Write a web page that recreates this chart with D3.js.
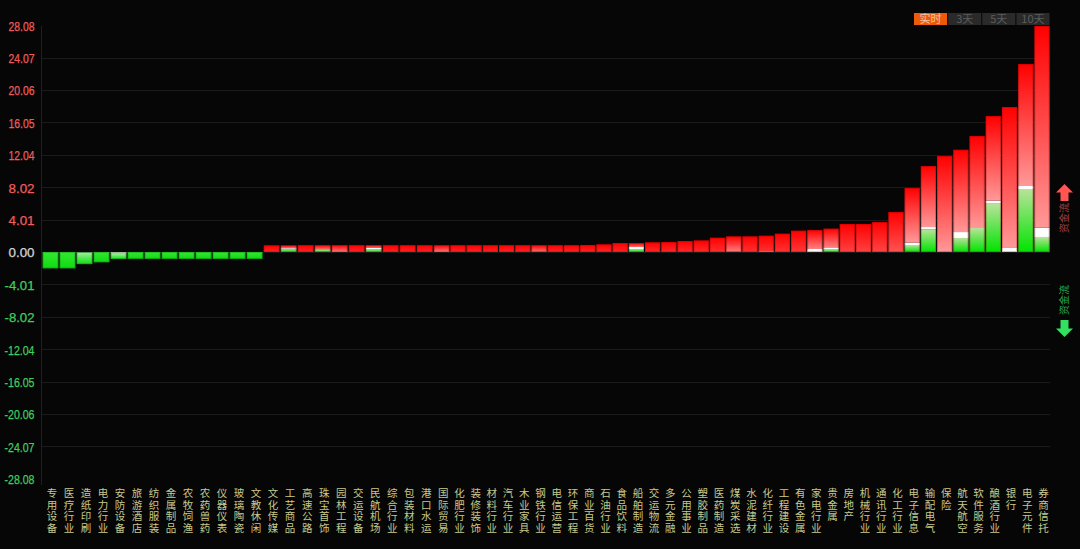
<!DOCTYPE html>
<html>
<head>
<meta charset="utf-8">
<script src="https://cdn.jsdelivr.net/npm/d3@7"></script>
<style>
  html, body { margin: 0; padding: 0; background: #060606; }
  svg { display: block; }
  text { font-family: "Noto Sans CJK SC", "Noto Sans", sans-serif; }
</style>
</head>
<body>
<div id="chart"></div>
<script>
/* Sector money flow bars */

const sectors = ["专用设备","医疗行业","造纸印刷","电力行业","安防设备","旅游酒店","纺织服装","金属制品","农牧饲渔","农药兽药","仪器仪表","玻璃陶瓷","文教休闲","文化传媒","工艺商品","高速公路","珠宝首饰","园林工程","交运设备","民航机场","综合行业","包装材料","港口水运","国际贸易","化肥行业","装修装饰","材料行业","汽车行业","木业家具","钢铁行业","电信运营","环保工程","商业百货","石油行业","食品饮料","船舶制造","交运物流","多元金融","公用事业","塑胶制品","医药制造","煤炭采选","水泥建材","化纤行业","工程建设","有色金属","家电行业","贵金属","房地产","机械行业","通讯行业","化工行业","电子信息","输配电气","保险","航天航空","软件服务","酿酒行业","银行","电子元件","券商信托"];

// bar total
const totals = [-2.02,-2.02,-1.5,-1.27,-0.87,-0.85,-0.85,-0.85,-0.85,-0.85,-0.85,-0.85,-0.85,0.83,0.83,0.85,0.85,0.85,0.85,0.85,0.85,0.85,0.85,0.85,0.85,0.85,0.85,0.85,0.85,0.85,0.85,0.85,0.87,0.95,1.11,1.11,1.2,1.24,1.36,1.44,1.77,1.94,1.94,2.02,2.27,2.64,2.72,2.89,3.47,3.47,3.71,4.95,7.92,10.64,11.88,12.66,14.36,16.83,17.95,23.27,28.0];

// green part at the base of the positive bars
const greens = [0,0,0,0,0,0,0,0,0,0,0,0,0,0,0.35,0,0.25,0,0,0.3,0,0,0,0,0,0,0,0,0,0,0,0,0,0,0,0.37,0,0,0,0,0,0,0,0.12,0,0,0,0.29,0,0,0,0,0.87,2.81,0,1.73,2.97,5.98,0,7.8,1.86];

// white part, sits between green and red
const whites = [0,0,0.05,0,0.25,0,0,0,0,0,0,0,0,0,0.12,0,0.08,0.08,0,0.25,0,0,0,0.08,0,0,0,0,0,0.04,0,0,0,0,0,0.25,0,0,0,0,0,0.04,0,0,0,0,0.37,0.29,0,0,0,0,0.28,0.28,0,0.74,0,0.37,0.5,0.37,1.15];

const yTicks = [28.08,24.07,20.06,16.05,12.04,8.02,4.01,0,-4.01,-8.02,-12.04,-16.05,-20.06,-24.07,-28.08];
const periods = ["实时","3天","5天","10天"];
const flowTitle = "资金流";

const width = 1080, height = 549;

const svg = d3.select("#chart")
    .append("svg")
    .attr("width", width)
    .attr("height", height)
    .attr("viewBox", [0, 0, width, height]);

const defs = svg.append("defs");

// the source picture has wider columns on the left part
const x = d3.scaleLinear()
    .domain([0, 23, 60])
    .range([50.5, 441.7, 1042]);

const y = d3.scaleLinear()
    .domain([-28.08, 28.08])
    .range([478.8, 25.2]);

const barW = i => i < 23 ? 15.7 : 15.2;

// grid
svg.append("g")
    .selectAll("line")
    .data(yTicks.filter(d => Math.abs(d) !== 28.08))
    .join("line")
    .attr("x1", 41)
    .attr("x2", 1050)
    .attr("y1", d => Math.round(y(d)) + 0.5)
    .attr("y2", d => Math.round(y(d)) + 0.5)
    .attr("stroke", "#1b1b1b");

const yAxis = d3.axisLeft(y)
    .tickValues(yTicks)
    .tickFormat(d => d.toFixed(2))
    .tickSize(0)
    .tickPadding(7);

const axisG = svg.append("g")
    .attr("transform", "translate(41.5,0)")
    .call(yAxis);

axisG.select(".domain").attr("stroke", "#1f1f1f").attr("d", "M0,26V485");
axisG.selectAll("text")
    .attr("y", 1)
    .style("font-family", "'Liberation Sans', sans-serif")
    .style("font-size", "12px")
    .attr("textLength", d => d < 0 ? 30 : 26)
    .attr("lengthAdjust", "spacingAndGlyphs")
    .attr("stroke-width", 0.25)
    .attr("stroke", d => d > 0 ? "#ee5c5c" : d < 0 ? "#3fcc60" : "#d4d4d4")
    .attr("fill", d => d > 0 ? "#ee5c5c" : d < 0 ? "#3fcc60" : "#d4d4d4");

function gradient(id, top, bottom) {
    const g = defs.append("linearGradient")
        .attr("id", id)
        .attr("x1", 0).attr("x2", 0).attr("y1", 0).attr("y2", 1);
    g.append("stop").attr("offset", 0).attr("stop-color", top);
    g.append("stop").attr("offset", 1).attr("stop-color", bottom);
    return `url(#${id})`;
}

const bars = svg.append("g")
    .selectAll("g")
    .data(totals)
    .join("g");

bars.each(function(total, i) {
    const g = d3.select(this);
    const left = x(i) - barW(i) / 2;
    const rect = (from, to, fill) => g.append("rect")
        .attr("x", left)
        .attr("width", barW(i))
        .attr("y", y(Math.max(from, to)))
        .attr("height", Math.abs(y(from) - y(to)))
        .attr("fill", fill);

    if (total < 0) {
        const w = whites[i];
        const pale = w > 0 ? 0.6 : 0.2;
        if (w > 0) rect(0, -w, gradient("w" + i, "#ece8e0", "#b0b0a8"));
        rect(-w, total, gradient("g" + i, d3.interpolateRgb("#00e000", "#ffffff")(pale), "#0fdc0f"));
        g.append("rect")
            .attr("x", left + 0.5).attr("width", barW(i) - 1)
            .attr("y", y(0) + 0.5).attr("height", y(total) - y(0) - 1)
            .attr("fill", "none").attr("stroke", "#006a00").attr("stroke-opacity", 0.3);
        return;
    }

    const gr = greens[i], wh = whites[i];
    const redBase = gr + wh;
    const redPx = y(redBase) - y(total);
    // long bars and bars with a white band fade further
    const fade = Math.min(0.6, redPx / 180 + 0.1 + (wh > 0 ? 0.3 : 0));
    const redEnd = d3.interpolateRgb("#ff0000", "#ffffff")(fade);

    if (gr > 0) {
        const paleGreen = gr > 0.5 ? "#b9e39a" : "#a8e088";
        rect(0, gr, gradient("g" + i, paleGreen, "#00e400"));
    }
    if (wh > 0) rect(gr, redBase, "#ffffff");
    rect(redBase, total, gradient("r" + i, "#ff0000", redEnd));

    g.append("rect")
        .attr("x", left + 0.5).attr("width", barW(i) - 1)
        .attr("y", y(total) + 0.5).attr("height", Math.max(0, y(0) - y(total) - 1))
        .attr("fill", "none").attr("stroke", "#8c0000").attr("stroke-opacity", 0.28);
});

// sector names, one character per row
svg.append("g")
    .selectAll("text")
    .data(sectors)
    .join("text")
    .attr("fill", "#c9c98d")
    .style("font-size", "10.5px")
    .attr("text-anchor", "middle")
    .each(function(name, i) {
        d3.select(this).selectAll("tspan")
            .data(Array.from(name))
            .join("tspan")
            .attr("x", x(i) + 1.5)
            .attr("y", (c, k) => 497 + k * 11.67)
            .text(c => c);
    });

// period buttons
const btn = d3.scaleBand()
    .domain(periods)
    .range([914, 1049.5])
    .paddingInner(0.03);

const btnG = svg.append("g")
    .selectAll("g")
    .data(periods)
    .join("g");

btnG.append("rect")
    .attr("x", d => btn(d))
    .attr("y", 13)
    .attr("width", btn.bandwidth())
    .attr("height", 12)
    .attr("fill", (d, i) => i === 0 ? "#ee5a0a" : "#2a2a2a");

btnG.append("text")
    .attr("x", d => btn(d) + btn.bandwidth() / 2)
    .attr("y", 23)
    .attr("text-anchor", "middle")
    .style("font-size", "11px")
    .attr("fill", (d, i) => i === 0 ? "#f2c6a6" : "#5c5c5c")
    .text(d => d);

// flow markers on the right
const arrow = d3.path();
arrow.moveTo(0, 0);
arrow.lineTo(8.5, 8.5);
arrow.lineTo(4, 8.5);
arrow.lineTo(4, 17);
arrow.lineTo(-4, 17);
arrow.lineTo(-4, 8.5);
arrow.lineTo(-8.5, 8.5);
arrow.closePath();

svg.append("path")
    .attr("d", arrow)
    .attr("transform", "translate(1064.5,184)")
    .attr("fill", "#ff5555");

svg.append("path")
    .attr("d", arrow)
    .attr("transform", "translate(1064.5,337) scale(1,-1)")
    .attr("fill", "#33e060");

svg.append("text")
    .attr("transform", "translate(1064.5,218) rotate(-90)")
    .attr("text-anchor", "middle")
    .attr("dy", "0.35em")
    .style("font-size", "10px")
    .attr("fill", "#a84040")
    .text(flowTitle);

svg.append("text")
    .attr("transform", "translate(1064.5,300) rotate(-90)")
    .attr("text-anchor", "middle")
    .attr("dy", "0.35em")
    .style("font-size", "10px")
    .attr("fill", "#2aa84c")
    .text(flowTitle);
</script>
</body>
</html>
